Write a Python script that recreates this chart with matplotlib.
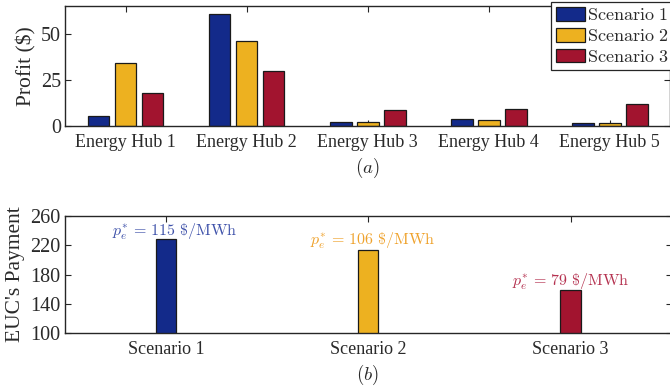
import matplotlib
matplotlib.use("Agg")
import matplotlib.pyplot as plt
import numpy as np

plt.rcParams['font.family'] = ['Liberation Serif', 'DejaVu Serif']
plt.rcParams['mathtext.fontset'] = 'cm'

hubs = ["Energy Hub 1", "Energy Hub 2", "Energy Hub 3", "Energy Hub 4", "Energy Hub 5"]
scenarios = ["Scenario 1", "Scenario 2", "Scenario 3"]
profit_s1 = [5.4, 60.5, 2.0, 3.6, 1.6]
profit_s2 = [34.2, 46.0, 2.2, 3.3, 1.5]
profit_s3 = [17.7, 29.8, 8.4, 9.1, 11.8]
payment = [228.5, 213.5, 158.5]
prices = [115, 106, 79]
profit_ticks = [0, 25, 50]
payment_ticks = [100, 140, 180, 220, 260]

bar_colors = ['#132A8A', '#EDB120', '#A2142F']
text_colors = ['#3F52AA', '#EFA22C', '#B53250']
edge = '#1a1a1a'
txtc = '#2a2a2a'

fig = plt.figure(figsize=(6.7, 3.9), dpi=100)
ax1 = fig.add_axes([0.097, 0.677, 0.9035, 0.308])
ax2 = fig.add_axes([0.097, 0.146, 0.9055, 0.300])

def style(ax):
    ax.set_axisbelow(True)
    for s in ax.spines.values():
        s.set_linewidth(1.0)
        s.set_color('#262626')
    ax.tick_params(direction='in', length=4, width=0.8, color='#262626',
                   top=True, right=True, labelcolor=txtc)

# --- top chart
x = np.arange(1, len(hubs) + 1)
w = 0.18
off = 0.223
series = [profit_s1, profit_s2, profit_s3]
for i, vals in enumerate(series):
    ax1.bar(x + (i - 1) * off, vals, width=w, color=bar_colors[i], edgecolor=edge,
            linewidth=0.9, label=r'$\mathrm{' + scenarios[i].replace(' ', r'\ ') + '}$')
ax1.set_xlim(0.5, len(hubs) + 0.5)
ax1.set_ylim(0, 65)
ax1.set_xticks(x)
ax1.set_xticklabels(hubs)
ax1.set_yticks(profit_ticks)
style(ax1)
ax1.tick_params(axis='x', labelsize=13, pad=6)
ax1.tick_params(axis='y', labelsize=14.5, pad=3)
ax1.set_ylabel('Profit ($)', fontsize=15.5, va='center', color=txtc)
ax1.yaxis.set_label_coords(-0.064, 0.5)
leg = ax1.legend(loc='upper right', bbox_to_anchor=(673 / 670, 1 - 2.5 / 390),
                 bbox_transform=fig.transFigure, fontsize=13, frameon=True,
                 fancybox=False, edgecolor='#262626', framealpha=1,
                 handlelength=1.6, handleheight=0.8, handletextpad=0.12,
                 labelspacing=0.2, borderpad=0.25, borderaxespad=0)
leg.get_frame().set_linewidth(0.9)
for t in leg.get_texts():
    t.set_color(txtc)
fig.text(367 / 670, 1 - 168 / 390, r'$(a)$', fontsize=13.5, ha='center', va='center', color=txtc)

# --- bottom chart
xs = np.arange(1, len(scenarios) + 1)
ax2.bar(xs, payment, width=0.1, color=bar_colors, edgecolor=edge, linewidth=0.9)
ax2.set_xlim(0.5, len(scenarios) + 0.5)
ax2.set_ylim(100, 260)
ax2.set_xticks(xs)
ax2.set_xticklabels(scenarios)
ax2.set_yticks(payment_ticks)
style(ax2)
ax2.tick_params(axis='x', labelsize=13, pad=6)
ax2.tick_params(axis='y', labelsize=14.5, pad=3)
ax2.set_ylabel("EUC's Payment", fontsize=15.5, va='center', color=txtc)
ax2.yaxis.set_label_coords(-0.082, 0.5)
txt_dx = [0.04, 0.02, 0.0]
txt_dy = [10, 13, 11]
for i, (xv, yv, p) in enumerate(zip(xs, payment, prices)):
    ax2.text(xv + txt_dx[i], yv + txt_dy[i],
             r'$p_e^{*}\,=\,%d\ \$/\mathrm{MWh}$' % p,
             color=text_colors[i], fontsize=11.5, ha='center', va='center')
fig.text(367 / 670, 1 - 375 / 390, r'$(b)$', fontsize=13.5, ha='center', va='center', color=txtc)

fig.savefig('out.png', dpi=100)
